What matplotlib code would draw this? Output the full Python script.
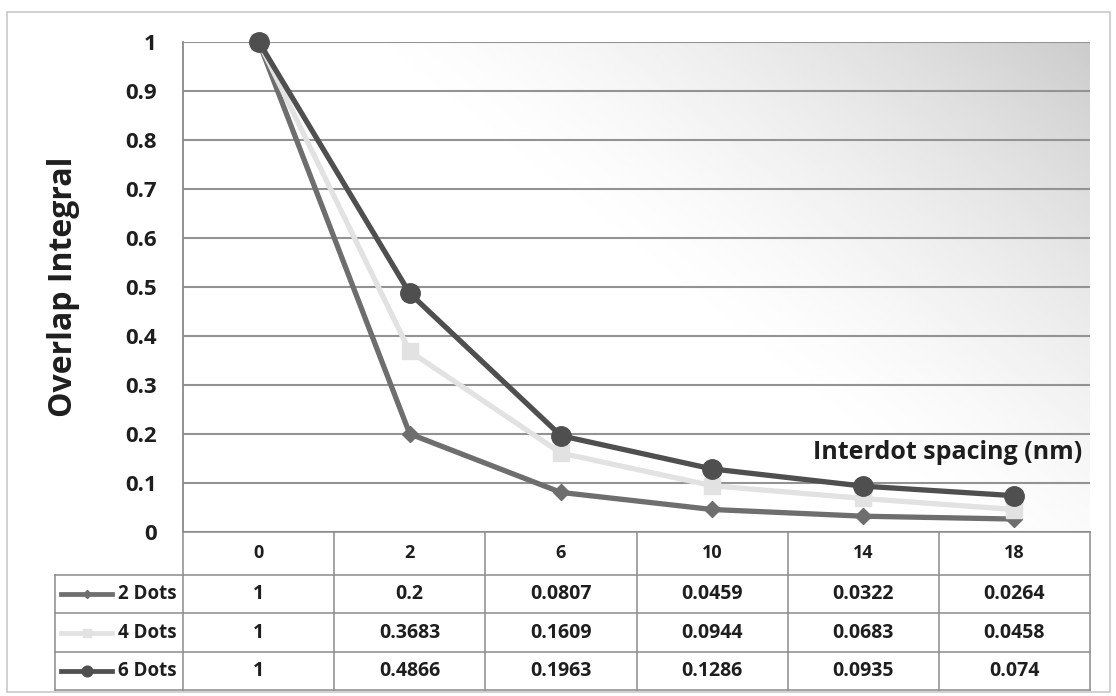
import numpy as np
import matplotlib.pyplot as plt
from matplotlib.lines import Line2D
from matplotlib.patches import Rectangle

plt.rcParams['font.family'] = ['Open Sans', 'DejaVu Sans']
plt.rcParams['font.weight'] = 'bold'

# overlap integral vs interdot spacing
spacing = ['0', '2', '6', '10', '14', '18']
series_names = ['2 Dots', '4 Dots', '6 Dots']
dots2 = [1, 0.2, 0.0807, 0.0459, 0.0322, 0.0264]
dots4 = [1, 0.3683, 0.1609, 0.0944, 0.0683, 0.0458]
dots6 = [1, 0.4866, 0.1963, 0.1286, 0.0935, 0.074]
value_text = [
    ['1', '0.2', '0.0807', '0.0459', '0.0322', '0.0264'],
    ['1', '0.3683', '0.1609', '0.0944', '0.0683', '0.0458'],
    ['1', '0.4866', '0.1963', '0.1286', '0.0935', '0.074'],
]

W, H = 1116, 696
fig = plt.figure(figsize=(W / 100, H / 100), dpi=100)

def fx(px):
    return px / W

def fy(py):
    return 1 - py / H

left, right, top, zero = 183, 1090, 41.5, 532
ax = fig.add_axes([fx(left), fy(zero), fx(right - left), (zero - top) / H])

# shaded background, darker towards the upper right
gx, gy = np.meshgrid(np.linspace(0, 1, 300), np.linspace(0, 1, 200))
f = np.clip((0.6 * gx + 0.4 * gy - 0.5) / 0.5, 0, 1) ** 1.5
shade = 1 - 0.2 * f
ax.imshow(shade, cmap='gray', vmin=0, vmax=1, extent=[0, 1, 0, 1],
          origin='lower', aspect='auto', transform=ax.transAxes, zorder=0)

x = np.arange(len(spacing))
styles = [
    dict(color='#6e6e6e', marker='D', markersize=8, lw=3.8),
    dict(color='#e2e2e2', marker='s', markersize=11, lw=3.8),
    dict(color='#4f4f4f', marker='o', markersize=14, lw=3.8),
]
for ys, st in zip([dots2, dots4, dots6], styles):
    ax.plot(x, ys, color=st['color'], lw=st['lw'], marker=st['marker'],
            markersize=st['markersize'], markerfacecolor=st['color'],
            markeredgecolor=st['color'], clip_on=False, zorder=3)

ax.set_xlim(-0.5, len(spacing) - 0.5)
ax.set_ylim(0, 1)
ax.set_yticks(np.arange(0, 1.01, 0.1))
ax.set_yticklabels(['0', '0.1', '0.2', '0.3', '0.4', '0.5', '0.6', '0.7', '0.8', '0.9', '1'])
ax.set_xticks([])
ax.tick_params(axis='y', length=0, pad=19, labelsize=16, labelcolor='#1e1e1e')
for s in ['top', 'right', 'bottom']:
    ax.spines[s].set_visible(False)
ax.spines['left'].set_color('#9a9a9a')
ax.spines['left'].set_linewidth(1.2)
ax.grid(axis='y', color='#939393', lw=1.5, zorder=1)
ax.set_axisbelow(True)

ax.text(0.991, 0.163, 'Interdot spacing (nm)', transform=ax.transAxes,
        ha='right', va='center', fontsize=18, color='#1e1e1e', zorder=4)

fig.text(fx(64), fy(287), 'Overlap Integral', rotation=90, ha='center',
         va='center', fontsize=23, color='#1e1e1e')

# data table below the plot
col_w = (right - left) / len(spacing)
rows = [532, 575, 613, 652, 690]
lab_left = 55
grid_c = '#8c8c8c'

def hline(x0, x1, y):
    fig.add_artist(Line2D([fx(x0), fx(x1)], [fy(y), fy(y)], color=grid_c, lw=1.1))

def vline(xp, y0, y1):
    fig.add_artist(Line2D([fx(xp), fx(xp)], [fy(y0), fy(y1)], color=grid_c, lw=1.1))

hline(left, right, rows[0])
for r in rows[1:]:
    hline(lab_left, right, r)
vline(left, top, rows[-1])
vline(lab_left, rows[1], rows[-1])
for i in range(1, len(spacing) + 1):
    vline(left + i * col_w, rows[0], rows[-1])

for i, s in enumerate(spacing):
    fig.text(fx(left + (i + 0.5) * col_w), fy((rows[0] + rows[1]) / 2), s,
             ha='center', va='center', fontsize=13, color='#1e1e1e')

for r, name in enumerate(series_names):
    cy = (rows[r + 1] + rows[r + 2]) / 2
    for i, t in enumerate(value_text[r]):
        fig.text(fx(left + (i + 0.5) * col_w), fy(cy), t, ha='center',
                 va='center', fontsize=14, color='#1e1e1e')
    fig.text(fx(177), fy(cy), name, ha='right', va='center', fontsize=13.5,
             color='#1e1e1e')
    st = styles[r]
    fig.add_artist(Line2D([fx(61), fx(112)], [fy(cy), fy(cy)], color=st['color'],
                          lw=st['lw'] * 0.9))
    fig.add_artist(Line2D([fx(87)], [fy(cy)], color=st['color'], marker=st['marker'],
                          markersize=st['markersize'] * 0.55, lw=0))

# chart frame
fig.add_artist(Rectangle((fx(7), fy(692)), fx(1103), (692 - 12) / H,
                         transform=fig.transFigure, fill=False,
                         edgecolor='#c8c8c8', lw=1.2))

fig.savefig('out.png', dpi=100, facecolor='white')
